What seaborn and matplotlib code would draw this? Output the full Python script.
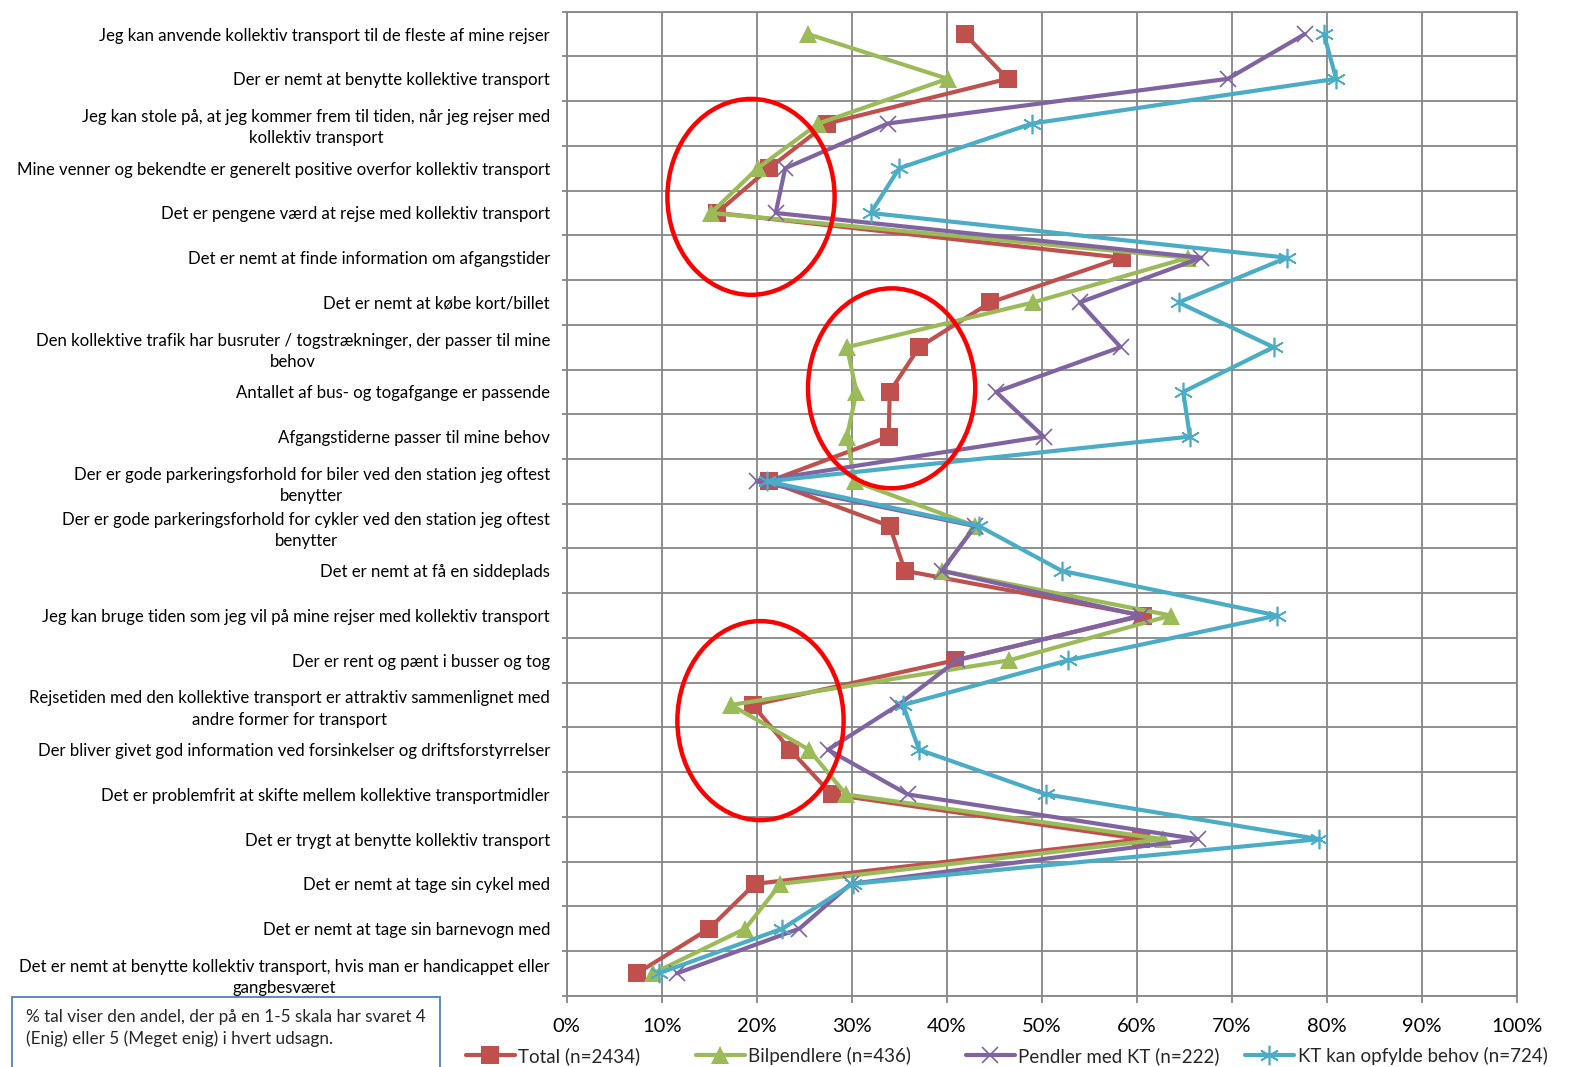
import numpy as np
import matplotlib
matplotlib.use("Agg")
import matplotlib.pyplot as plt
from matplotlib.patches import Ellipse, Rectangle
from matplotlib.ticker import FuncFormatter
import seaborn as sns

# Statements (top to bottom)
statements = [
    "Jeg kan anvende kollektiv transport til de fleste af mine rejser",
    "Der er nemt at benytte kollektive transport",
    "Jeg kan stole på, at jeg kommer frem til tiden, når jeg rejser med\nkollektiv transport",
    "Mine venner og bekendte er generelt positive overfor kollektiv transport",
    "Det er pengene værd at rejse med kollektiv transport",
    "Det er nemt at finde information om afgangstider",
    "Det er nemt at købe kort/billet",
    "Den kollektive trafik har busruter / togstrækninger, der passer til mine\nbehov",
    "Antallet af bus- og togafgange er passende",
    "Afgangstiderne passer til mine behov",
    "Der er gode parkeringsforhold for biler ved den station jeg oftest\nbenytter",
    "Der er gode parkeringsforhold for cykler ved den station jeg oftest\nbenytter",
    "Det er nemt at få en siddeplads",
    "Jeg kan bruge tiden som jeg vil på mine rejser med kollektiv transport",
    "Der er rent og pænt i busser og tog",
    "Rejsetiden med den kollektive transport er attraktiv sammenlignet med\nandre former for transport",
    "Der bliver givet god information ved forsinkelser og driftsforstyrrelser",
    "Det er problemfrit at skifte mellem kollektive transportmidler",
    "Det er trygt at benytte kollektiv transport",
    "Det er nemt at tage sin cykel med",
    "Det er nemt at tage sin barnevogn med",
    "Det er nemt at benytte kollektiv transport, hvis man er handicappet eller\ngangbesværet",
]

# Share (%) answering 4 or 5, per group
total = [41.9, 46.4, 27.4, 21.3, 15.8, 58.4, 44.6, 37.1, 34.0, 33.9, 21.3,
         34.0, 35.6, 60.7, 40.9, 19.6, 23.5, 27.9, 60.5, 19.8, 15.0, 7.4]
bilpendlere = [25.4, 40.1, 26.5, 20.1, 15.2, 65.4, 49.1, 29.5, 30.5, 29.5, 30.3,
               43.0, 39.5, 63.6, 46.6, 17.3, 25.5, 29.4, 62.8, 22.5, 18.8, 9.1]
pendler_kt = [77.7, 69.6, 33.8, 23.0, 22.0, 66.8, 54.0, 58.3, 45.2, 50.2, 20.0,
              43.0, 39.5, 60.4, 41.1, 34.9, 27.5, 35.9, 66.4, 29.9, 24.5, 11.6]
kt_behov = [79.7, 81.0, 49.0, 35.0, 32.0, 75.8, 64.4, 74.4, 64.9, 65.6, 21.1,
            43.4, 52.1, 74.8, 52.8, 35.4, 37.1, 50.5, 79.2, 30.1, 22.7, 9.7]

series_names = ["Total (n=2434)", "Bilpendlere (n=436)",
                "Pendler med KT (n=222)", "KT kan opfylde behov (n=724)"]
x_ticks = [0, 10, 20, 30, 40, 50, 60, 70, 80, 90, 100]

note_lines = ["% tal viser den andel, der på en 1-5 skala har svaret 4",
              "(Enig) eller 5 (Meget enig) i hvert udsagn."]

sns.set_theme(style="white")
plt.rcParams["font.family"] = ["Lato", "DejaVu Sans"]

W, H = 1581, 1067
fig = plt.figure(figsize=(W / 100, H / 100), dpi=100)
ax = fig.add_axes([566.7 / W, 1 - 995.7 / H, 950 / W, 984 / H])

pos = np.arange(len(statements))
styles = [
    dict(color="#C0504D", marker="s", markersize=12.5, mew=0),
    dict(color="#9BBB59", marker="^", markersize=13, mew=0),
    dict(color="#8064A2", marker="x", markersize=11, mew=1.2),
    dict(color="#4BACC6", marker=(6, 2, 0), markersize=14, mew=1.2),
]
for vals, name, st in zip([total, bilpendlere, pendler_kt, kt_behov], series_names, styles):
    sns.lineplot(x=vals, y=pos, sort=False, estimator=None, orient="y", ax=ax,
                 label=name, lw=3.0, color=st["color"], marker=st["marker"],
                 markersize=st["markersize"], markeredgewidth=st["mew"],
                 markeredgecolor=st["color"], markerfacecolor=st["color"])

gc = "#868686"
ax.set_xlim(0, 100)
ax.set_ylim(len(statements) - 0.5, -0.5)
ax.set_xticks(x_ticks)
ax.xaxis.set_major_formatter(FuncFormatter(lambda v, p: f"{v:.0f}%"))
ax.set_yticks(pos)
ax.set_yticklabels(statements)
ax.set_yticks(np.arange(-0.5, len(statements), 1.0), minor=True)
for t in ax.get_yticklabels():
    t.set_multialignment("center")
    t.set_linespacing(1.4)
ax.set_xlabel("")
ax.set_ylabel("")

ax.grid(False)
ax.xaxis.grid(True, which="major", color=gc, lw=1.3)
ax.yaxis.grid(True, which="minor", color=gc, lw=1.3)
ax.tick_params(axis="y", which="major", length=0, pad=12, labelsize=12.1, labelcolor="black")
ax.tick_params(axis="y", which="minor", length=3.6, width=1.3, color=gc, left=True)
ax.tick_params(axis="x", which="major", length=5, width=1.3, color=gc, bottom=True,
               pad=11, labelsize=14.5, labelcolor="black")
for s in ax.spines.values():
    s.set_color(gc)
    s.set_linewidth(1.3)

# Highlighted clusters
for (cx, cy, w, h) in [(19.4, 3.64, 17.6, 4.38), (34.2, 7.92, 17.6, 4.47), (20.4, 15.35, 17.5, 4.45)]:
    ax.add_patch(Ellipse((cx, cy), w, h, fill=False, ec="#FF0000", lw=3.2, zorder=6))

# Legend entries placed one by one along the bottom
handles, labels = ax.get_legend_handles_labels()
ax.get_legend().remove()
legend_x = [466, 696, 966, 1245]
for h_, l_, lx in zip(handles, labels, legend_x):
    fig.legend([h_], [l_], loc="center left", bbox_to_anchor=(lx / W, 1 - 1056 / H),
               frameon=False, fontsize=13.5, handlelength=2.6, handletextpad=0.2,
               borderpad=0, borderaxespad=0)

# Note box
fig.add_artist(Rectangle((12 / W, -0.05), (440 - 12) / W, 0.05 + 1 - 997 / H,
                         transform=fig.transFigure, fill=False, ec="#4F81BD", lw=1.3))
for i, line in enumerate(note_lines):
    fig.text(26 / W, 1 - (1017 + 22 * i) / H, line, fontsize=12.3, va="center", ha="left")

fig.savefig("out.png", dpi=100, facecolor="white")
